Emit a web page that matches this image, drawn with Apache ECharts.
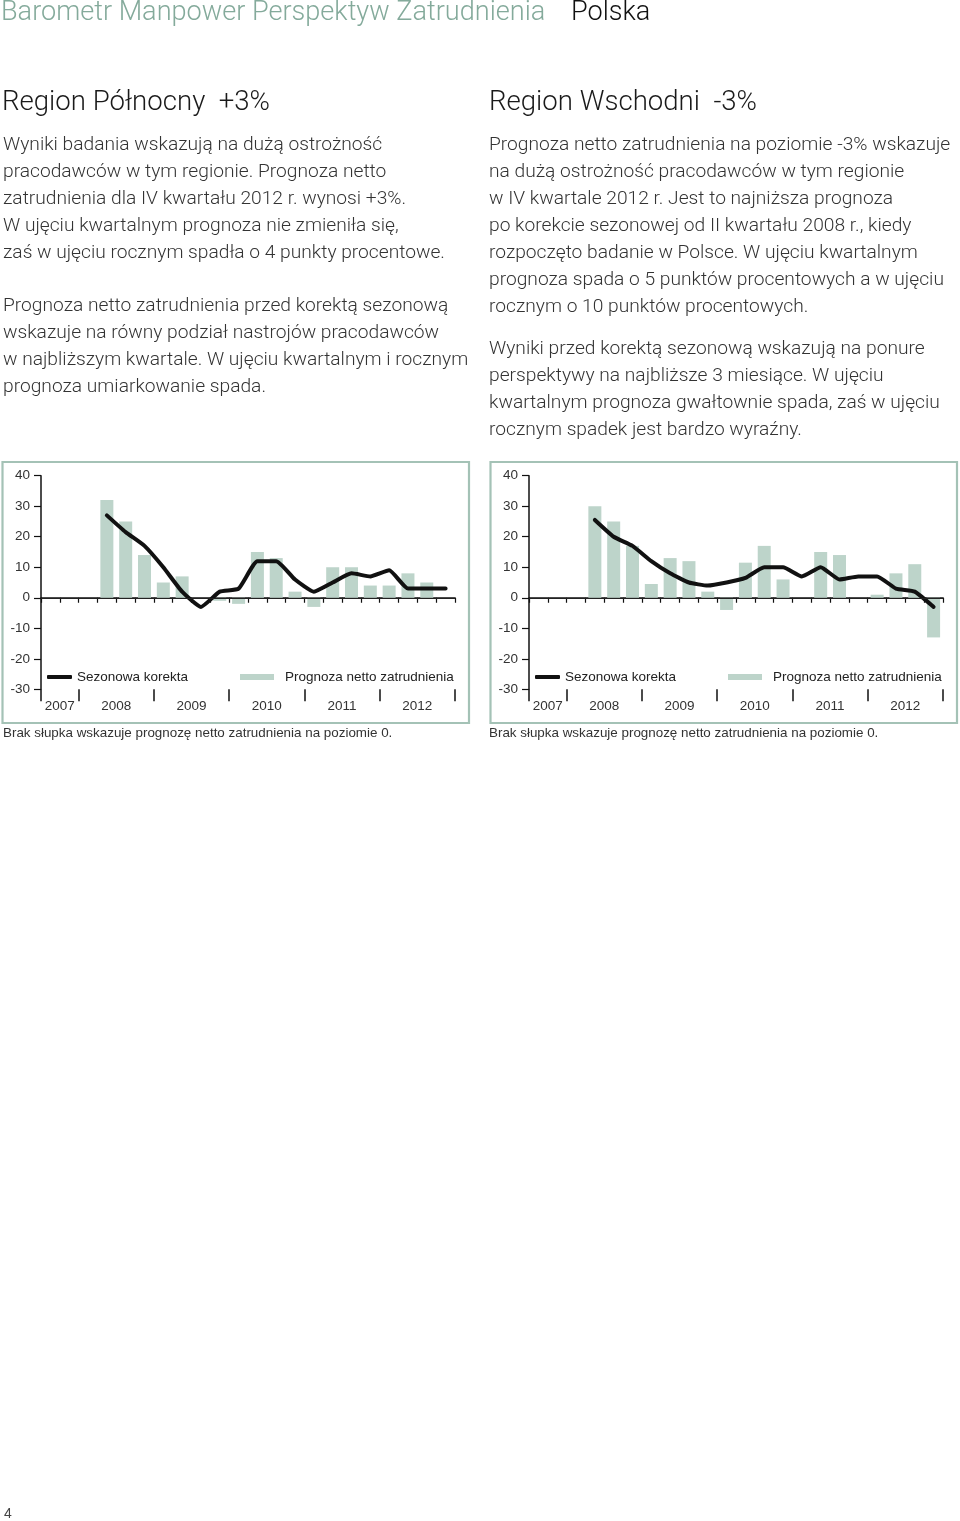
<!DOCTYPE html>
<html><head><meta charset="utf-8">
<script src="https://cdn.jsdelivr.net/npm/echarts@6/dist/echarts.min.js"></script>
<style>html,body{margin:0;padding:0;background:#fff}#c{width:960px;height:1521px}</style>
</head><body><div id="c"></div>
<script>
// ---- data ----
const categories = ['III 2007','IV 2007','I 2008','II 2008','III 2008','IV 2008','I 2009','II 2009','III 2009','IV 2009','I 2010','II 2010','III 2010','IV 2010','I 2011','II 2011','III 2011','IV 2011','I 2012','II 2012','III 2012','IV 2012'];
const yearLabels = ['2007','2008','2009','2010','2011','2012'];
const northNet = [null,null,null,32,25,14,5,7,0,-1,-2,15,13,2,-3,10,10,4,4,8,5,0];
const northAdj = [null,null,null,27,21.5,17,10,2,-3,2,3,12,12,6,2,5,8,7,9,3,3,3];
const eastNet  = [null,null,null,30,25,17,4.5,13,12,2,-4,11.5,17,6,0,15,14,0,1,8,11,-13];
const eastAdj  = [null,null,null,25.5,20,17,12,8,5,4,5,6.5,10,10,7,10,6,7,7,3,2,-3];
const lineName = 'Sezonowa korekta';
const barName = 'Prognoza netto zatrudnienia';

// year boundaries and centres derived from categories
const firstIdx = {}, lastIdx = {}, yearOrder = [];
categories.forEach((c, i) => { const y = c.split(' ')[1]; if (!(y in firstIdx)) { firstIdx[y] = i; yearOrder.push(y); } lastIdx[y] = i; });
const bounds = [0].concat(yearOrder.map(y => lastIdx[y] + 1));
const centers = yearOrder.map(y => (firstIdx[y] + lastIdx[y] + 1) / 2);

const FONT = '"Liberation Sans", Arial, sans-serif';
const HFONT = 'Roboto, "Liberation Sans", sans-serif';
const AX = '#111';

const chart = echarts.init(document.getElementById('c'), null, {renderer: 'canvas'});

const grids = [], xAxes = [], yAxes = [], series = [], legends = [];
[[northNet, northAdj], [eastNet, eastAdj]].forEach((d, g) => {
  const off = g * 488;
  grids.push({left: 41 + off, top: 475.7, width: 414, height: 213.6, containLabel: false});
  xAxes.push({type: 'category', gridIndex: g, data: categories, boundaryGap: true,
    axisLine: {show: true, lineStyle: {color: AX, width: 1.5}},
    axisTick: {show: true, interval: 0, length: 5, lineStyle: {color: AX, width: 1.2}},
    axisLabel: {show: false}, splitLine: {show: false}});
  xAxes.push({type: 'value', gridIndex: g, min: 0, max: categories.length, position: 'bottom',
    axisLine: {show: false},
    axisTick: {show: true, customValues: bounds, length: 12, lineStyle: {color: AX, width: 1.5}},
    axisLabel: {show: true, customValues: centers, margin: 10, color: '#333', fontSize: 13.5, fontFamily: FONT,
      formatter: v => { const k = centers.indexOf(v); return k >= 0 ? yearLabels[k] : ''; }},
    splitLine: {show: false}});
  yAxes.push({type: 'value', gridIndex: g, min: -30, max: 40, interval: 10,
    axisLine: {show: true, lineStyle: {color: AX, width: 1.5}},
    axisTick: {show: true, length: 7, lineStyle: {color: AX, width: 1.2}},
    axisLabel: {margin: 11, color: '#333', fontSize: 13.5, fontFamily: FONT},
    splitLine: {show: false}});
  series.push({type: 'bar', name: barName, xAxisIndex: 2 * g, yAxisIndex: g, data: d[0], barWidth: 13,
    itemStyle: {color: '#bdd4ca'}, z: 2,
    markLine: {silent: true, symbol: ['none', 'none'], label: {show: false}, animation: false,
      lineStyle: {color: '#222', width: 1.2, type: 'solid'}, data: [{yAxis: 0}]}});
  series.push({type: 'line', name: lineName, xAxisIndex: 2 * g, yAxisIndex: g, data: d[1], showSymbol: false, symbol: 'none',
    smooth: 0.15, lineStyle: {color: '#111', width: 4, cap: 'round', join: 'round'}, itemStyle: {color: '#111'}, z: 3});
  legends.push({data: [lineName], left: 47 + off, top: 670, padding: 0, itemGap: 0, itemWidth: 25, itemHeight: 4,
    icon: 'roundRect', selectedMode: false, textStyle: {color: '#222', fontSize: 13.5, fontFamily: FONT}});
  legends.push({data: [barName], left: 240 + off, top: 670, padding: 0, itemGap: 0, itemWidth: 34, itemHeight: 6,
    icon: 'rect', selectedMode: false, textStyle: {color: '#222', fontSize: 13.5, fontFamily: FONT, padding: [0, 0, 0, 6]}});
});

function txt(x, y, text, opts) {
  return Object.assign({type: 'text', x: x, y: y, silent: true,
    style: Object.assign({text: text, fontFamily: HFONT, fontWeight: 300, fontSize: 19.2, fill: '#333', verticalAlign: 'top', lineHeight: 27}, opts || {})});
}

const graphic = [
  txt(1, 13, 'Barometr Manpower Perspektyw Zatrudnienia', {fontSize: 27.1, fill: '#84aa9b', verticalAlign: 'middle', lineHeight: 30}),
  txt(571, 13, 'Polska', {fontSize: 27.1, fill: '#111', verticalAlign: 'middle', lineHeight: 30}),
  txt(2, 103, 'Region Północny  +3%', {fontSize: 27.6, fill: '#1a1a1a', verticalAlign: 'middle', lineHeight: 30}),
  txt(489, 103, 'Region Wschodni  -3%', {fontSize: 27.6, fill: '#1a1a1a', verticalAlign: 'middle', lineHeight: 30}),
  txt(3, 132, ['Wyniki badania wskazują na dużą ostrożność',
    'pracodawców w tym regionie. Prognoza netto',
    'zatrudnienia dla IV kwartału 2012 r. wynosi +3%.',
    'W ujęciu kwartalnym prognoza nie zmieniła się,',
    'zaś w ujęciu rocznym spadła o 4 punkty procentowe.'].join('\n')),
  txt(3, 293, ['Prognoza netto zatrudnienia przed korektą sezonową',
    'wskazuje na równy podział nastrojów pracodawców',
    'w najbliższym kwartale. W ujęciu kwartalnym i rocznym',
    'prognoza umiarkowanie spada.'].join('\n')),
  txt(489, 132, ['Prognoza netto zatrudnienia na poziomie -3% wskazuje',
    'na dużą ostrożność pracodawców w tym regionie',
    'w IV kwartale 2012 r. Jest to najniższa prognoza',
    'po korekcie sezonowej od II kwartału 2008 r., kiedy',
    'rozpoczęto badanie w Polsce. W ujęciu kwartalnym',
    'prognoza spada o 5 punktów procentowych a w ujęciu',
    'rocznym o 10 punktów procentowych.'].join('\n')),
  txt(489, 336, ['Wyniki przed korektą sezonową wskazują na ponure',
    'perspektywy na najbliższe 3 miesiące. W ujęciu',
    'kwartalnym prognoza gwałtownie spada, zaś w ujęciu',
    'rocznym spadek jest bardzo wyraźny.'].join('\n')),
  txt(3, 733, 'Brak słupka wskazuje prognozę netto zatrudnienia na poziomie 0.', {fontFamily: FONT, fontWeight: 'normal', fontSize: 13.4, fill: '#333', verticalAlign: 'middle', lineHeight: 16}),
  txt(489, 733, 'Brak słupka wskazuje prognozę netto zatrudnienia na poziomie 0.', {fontFamily: FONT, fontWeight: 'normal', fontSize: 13.4, fill: '#333', verticalAlign: 'middle', lineHeight: 16}),
  txt(4, 1514, '4', {fontFamily: FONT, fontWeight: 'normal', fontSize: 14, fill: '#444', verticalAlign: 'middle', lineHeight: 16}),
  {type: 'rect', silent: true, shape: {x: 2.5, y: 462, width: 466.5, height: 261}, style: {fill: 'none', stroke: '#a4c2b6', lineWidth: 2.2}, z: -1},
  {type: 'rect', silent: true, shape: {x: 490.5, y: 462, width: 466.5, height: 261}, style: {fill: 'none', stroke: '#a4c2b6', lineWidth: 2.2}, z: -1}
];

chart.setOption({
  animation: false,
  backgroundColor: '#fff',
  grid: grids, xAxis: xAxes, yAxis: yAxes, series: series, legend: legends, graphic: graphic
});
</script></body></html>
